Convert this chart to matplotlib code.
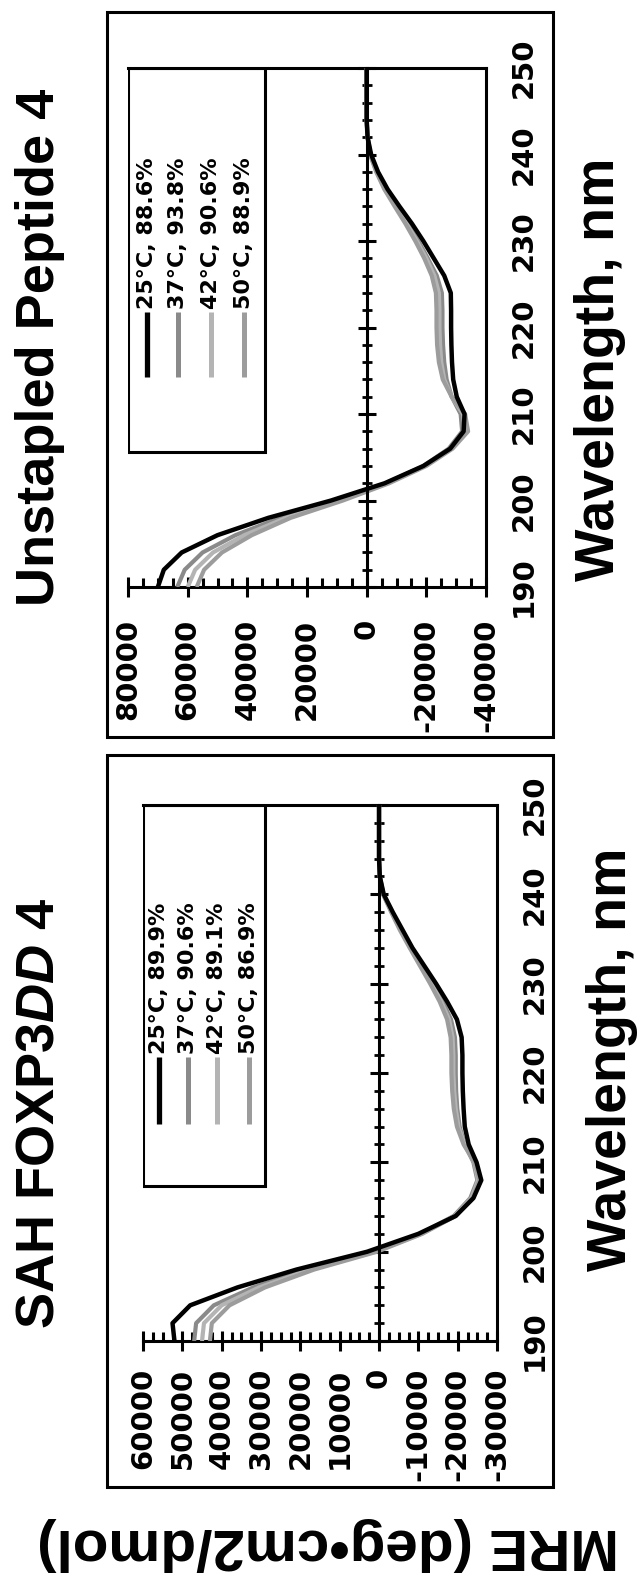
import matplotlib
matplotlib.use('Agg')
import matplotlib.pyplot as plt
from matplotlib.patches import Rectangle
from matplotlib.ticker import MultipleLocator

# data: CD spectra, MRE vs wavelength
wavelength = [190, 192, 194, 196, 198, 200, 202, 204, 206, 208, 210, 212, 214, 216, 218, 220,
              222, 224, 226, 228, 230, 232, 234, 236, 238, 240, 242, 244, 246, 248, 250]

# Unstapled Peptide 4
unst_25 = [70000, 68000, 62000, 50000, 33000, 12000, -6000, -19000, -28000, -32500, -32800, -30200,
           -29000, -28600, -28400, -28300, -28300, -28200, -26000, -22500, -19000, -15200, -11000,
           -7000, -3800, -1500, -300, 0, 0, 0, 0]
unst_37 = [63500, 61000, 55000, 44000, 29000, 10000, -6500, -19000, -27500, -32000, -31500, -28500,
           -26800, -26000, -25600, -25400, -25400, -25200, -23500, -20500, -17300, -13800, -10000,
           -6300, -3400, -1300, -300, 0, 0, 0, 0]
unst_42 = [60000, 57500, 51500, 41000, 27000, 9000, -7000, -19500, -28000, -33000, -32300, -28500,
           -26000, -25000, -24600, -24400, -24400, -24200, -22700, -20000, -16800, -13400, -9700,
           -6100, -3300, -1200, -300, 0, 0, 0, 0]
unst_50 = [57000, 54500, 48500, 38500, 25500, 8000, -7500, -20000, -28800, -34000, -33000, -28500,
           -25500, -24200, -23600, -23400, -23400, -23200, -21800, -19300, -16300, -13000, -9400,
           -5900, -3200, -1100, -300, 0, 0, 0, 0]
unst_labels = ['25°C, 88.6%', '37°C, 93.8%', '42°C, 90.6%', '50°C, 88.9%']

# SAH FOXP3DD 4
sah_25 = [52000, 52500, 48000, 36000, 21000, 3000, -10000, -19500, -24000, -26000, -24800, -22800,
          -21800, -21500, -21300, -21200, -21200, -21000, -19800, -17300, -14500, -11500, -8500,
          -6000, -3500, -1200, -200, 0, 0, 0, 0]
sah_37 = [47000, 46500, 42000, 32000, 18500, 1500, -10500, -19000, -23200, -25000, -24000, -21800,
          -20500, -19900, -19600, -19500, -19500, -19300, -18300, -16200, -13700, -11000, -8200,
          -5700, -3300, -1100, -200, 0, 0, 0, 0]
sah_42 = [45000, 44500, 40000, 30500, 17500, 1000, -10800, -19200, -23500, -25200, -24200, -21700,
          -20200, -19500, -19100, -18900, -18900, -18700, -17800, -15800, -13300, -10700, -8000,
          -5500, -3200, -1100, -200, 0, 0, 0, 0]
sah_50 = [43000, 42500, 38000, 29000, 16500, 500, -11000, -19500, -23800, -25500, -24300, -21500,
          -19800, -19000, -18600, -18400, -18400, -18200, -17300, -15400, -13000, -10400, -7800,
          -5300, -3100, -1000, -200, 0, 0, 0, 0]
sah_labels = ['25°C, 89.9%', '37°C, 90.6%', '42°C, 89.1%', '50°C, 86.9%']

unst_ticks = [80000, 60000, 40000, 20000, 0, -20000, -40000]
sah_ticks = [60000, 50000, 40000, 30000, 20000, 10000, 0, -10000, -20000, -30000]
wl_ticks = [190, 200, 210, 220, 230, 240, 250]

sans = 'Liberation Sans'
plt.rcParams['mathtext.fontset'] = 'custom'
plt.rcParams['mathtext.rm'] = sans + ':bold'
plt.rcParams['mathtext.it'] = sans + ':italic:bold'
plt.rcParams['axes.unicode_minus'] = False

colors = ['black', '#8a8a8a', '#b4b4b4', '#9c9c9c']
widths = [3.2, 3.0, 3.0, 3.0]

fig = plt.figure(figsize=(6.41, 15.79), dpi=100)


def draw_panel(rect, series, labels, ticks, minor, xpad, leg_right, leg_bottom, entry_x):
    ax = fig.add_axes(rect)
    for i in [1, 2, 3, 0]:
        ax.plot(series[i], wavelength, color=colors[i], lw=widths[i], solid_capstyle='butt', zorder=3)
    ax.set_xlim(ticks[0], ticks[-1])
    ax.set_ylim(190, 250)

    for s in ax.spines.values():
        s.set_linewidth(2.2)
    ax.spines['left'].set_position(('data', 0))
    ax.spines['left'].set_zorder(4)

    ax.xaxis.set_ticks_position('bottom')
    ax.set_xticks(ticks)
    ax.set_xticklabels([str(t) for t in ticks], rotation=90, fontsize=21, fontweight='bold')
    ax.xaxis.set_minor_locator(MultipleLocator(minor))
    ax.tick_params(axis='x', which='major', direction='inout', length=14, width=2.2, pad=xpad)
    ax.tick_params(axis='x', which='minor', direction='in', length=6.5, width=2.2)

    ax.yaxis.set_ticks_position('left')
    ax.yaxis.set_major_locator(MultipleLocator(10))
    ax.yaxis.set_minor_locator(MultipleLocator(2))
    ax.tick_params(axis='y', which='major', direction='inout', length=13, width=2.2, labelleft=False)
    ax.tick_params(axis='y', which='minor', direction='inout', length=7, width=2.0)

    # wavelength labels on the far side
    ax2 = ax.twinx()
    ax2.set_ylim(190, 250)
    ax2.set_yticks(wl_ticks)
    ax2.set_yticklabels([str(t) for t in wl_ticks], rotation=90, fontsize=21, fontweight='bold',
                        va='center')
    ax2.tick_params(axis='y', length=0, pad=17)
    for s in ax2.spines.values():
        s.set_visible(False)

    # legend, drawn by hand so it can be turned with the chart
    ax.add_patch(Rectangle((0, leg_bottom), leg_right, 1 - leg_bottom, transform=ax.transAxes,
                           fill=False, lw=2.2, zorder=5))
    for i, lab in enumerate(labels):
        ax.plot([entry_x[i], entry_x[i]], [0.405, 0.53], transform=ax.transAxes,
                color=colors[i], lw=widths[i] + 0.6, solid_capstyle='butt', zorder=5)
        ax.text(entry_x[i], 0.535, lab, transform=ax.transAxes, rotation=90, ha='center',
                va='bottom', fontsize=16, fontweight='bold', zorder=5)
    return ax


draw_panel([0.1997, 0.6282, 0.5585, 0.3287], [unst_25, unst_37, unst_42, unst_50], unst_labels,
           unst_ticks, 5000, 16, 0.382, 0.26, [0.053, 0.141, 0.233, 0.325])
draw_panel([0.2231, 0.1507, 0.5523, 0.3395], [sah_25, sah_37, sah_42, sah_50], sah_labels,
           sah_ticks, 2500, 12, 0.344, 0.29, [0.044, 0.127, 0.21, 0.298])

# outer frames
fig.add_artist(Rectangle((0.1669, 0.5333), 0.6958, 0.4591, transform=fig.transFigure, fill=False, lw=2.2))
fig.add_artist(Rectangle((0.1669, 0.0583), 0.6958, 0.4635, transform=fig.transFigure, fill=False, lw=2.2))

fig.text(0.062, 0.780, 'Unstapled Peptide 4', rotation=90, ha='center', va='center',
         fontsize=39, fontweight='bold', family=sans)
fig.text(0.062, 0.295, r'SAH FOXP3$\mathit{DD}$ 4', rotation=90, ha='center', va='center',
         fontsize=39, fontweight='bold', family=sans)
fig.text(0.936, 0.766, 'Wavelength, nm', rotation=90, ha='center', va='center',
         fontsize=40, fontweight='bold', family=sans)
fig.text(0.955, 0.329, 'Wavelength, nm', rotation=90, ha='center', va='center',
         fontsize=40, fontweight='bold', family=sans)
# shared y label of the upright chart, upside down along the bottom edge
fig.text(0.512, 0.022, 'MRE (deg•cm2/dmol)', rotation=180, ha='center', va='center',
         fontsize=42, fontweight='bold', family=[sans, 'DejaVu Sans'])

fig.savefig('out.png', dpi=100)
